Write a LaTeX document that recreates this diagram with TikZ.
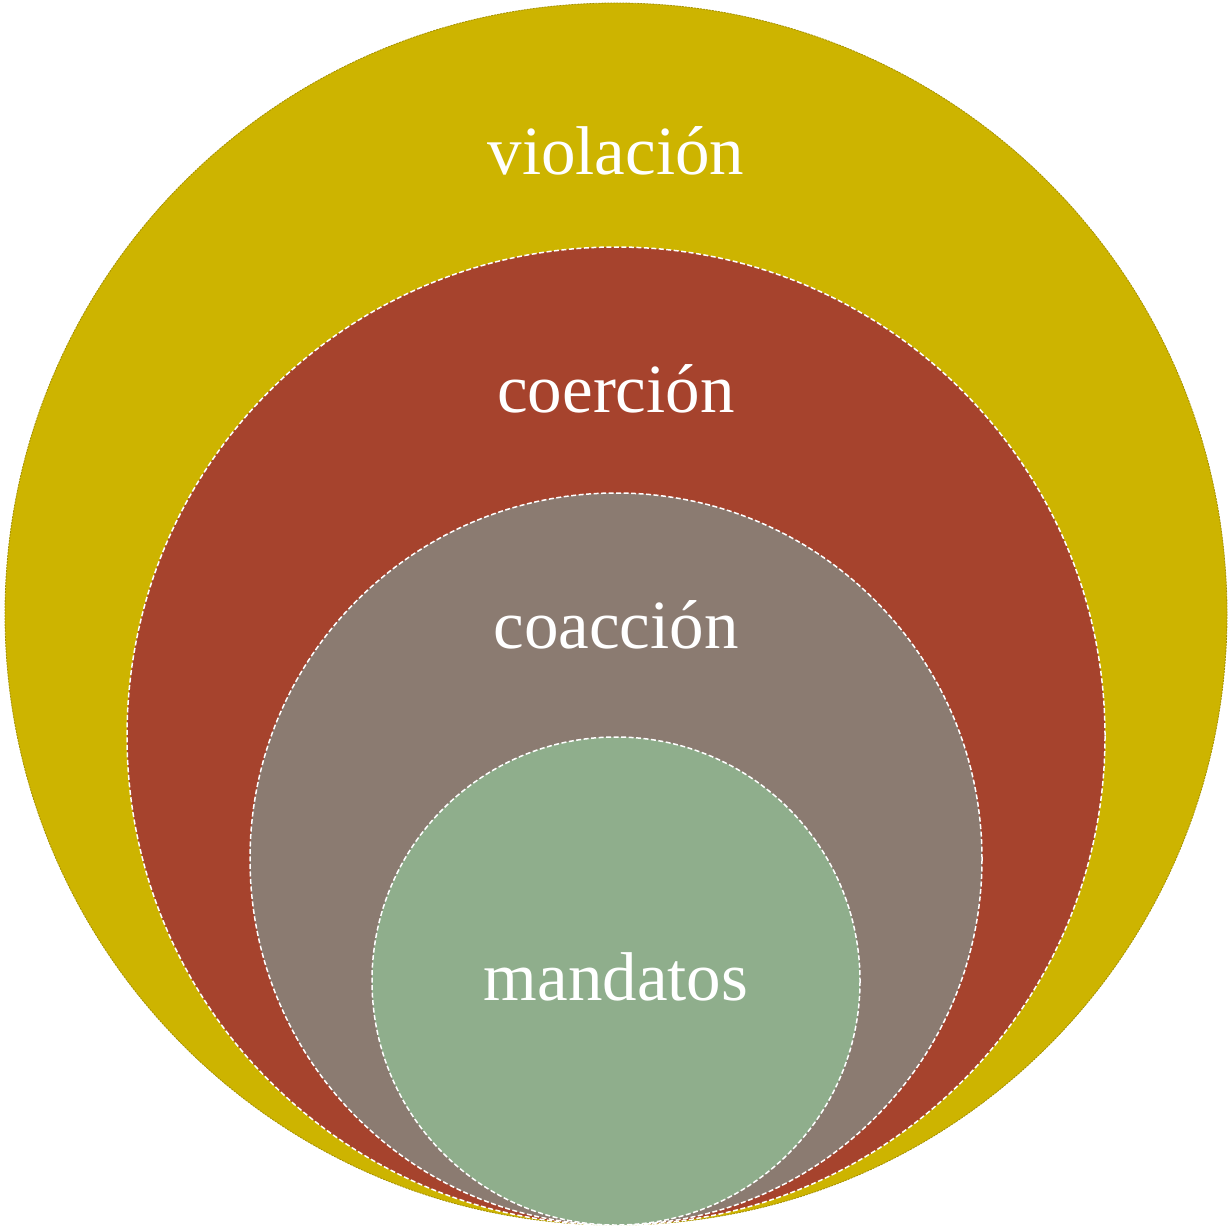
\documentclass[tikz,border=0pt]{standalone}
\usepackage{fontspec}
\setmainfont{Liberation Serif}
\definecolor{cyellow}{HTML}{CDB400}
\definecolor{cred}{HTML}{A6432D}
\definecolor{cgrey}{HTML}{8B7B71}
\definecolor{cgreen}{HTML}{8FAE8C}
\begin{document}
\begin{tikzpicture}[x=1pt,y=-1pt,
  ring/.style={draw=white,line width=1.5pt,dash pattern=on 5pt off 2.5pt},
  lbl/.style={text=white,font=\fontsize{69}{74}\selectfont,anchor=base}]
\useasboundingbox (0,0) rectangle (1231,1228);
\fill[cyellow] (616,614) circle (611);
\draw[cyellow!80!black,line width=0.8pt,dash pattern=on 2pt off 1pt] (616,614) circle (611);
\filldraw[fill=cred,ring] (616,736) circle (489);
\filldraw[fill=cgrey,ring] (616,859) circle (366);
\filldraw[fill=cgreen,ring] (616,981) circle (244);
\node[lbl] (v) at (616,175) {violación};
\node[lbl] (r) at (616,412) {coerción};
\node[lbl] (c) at (616,648) {coacción};
\node[lbl] (m) at (616,1000) {mandatos};
\end{tikzpicture}
\end{document}
